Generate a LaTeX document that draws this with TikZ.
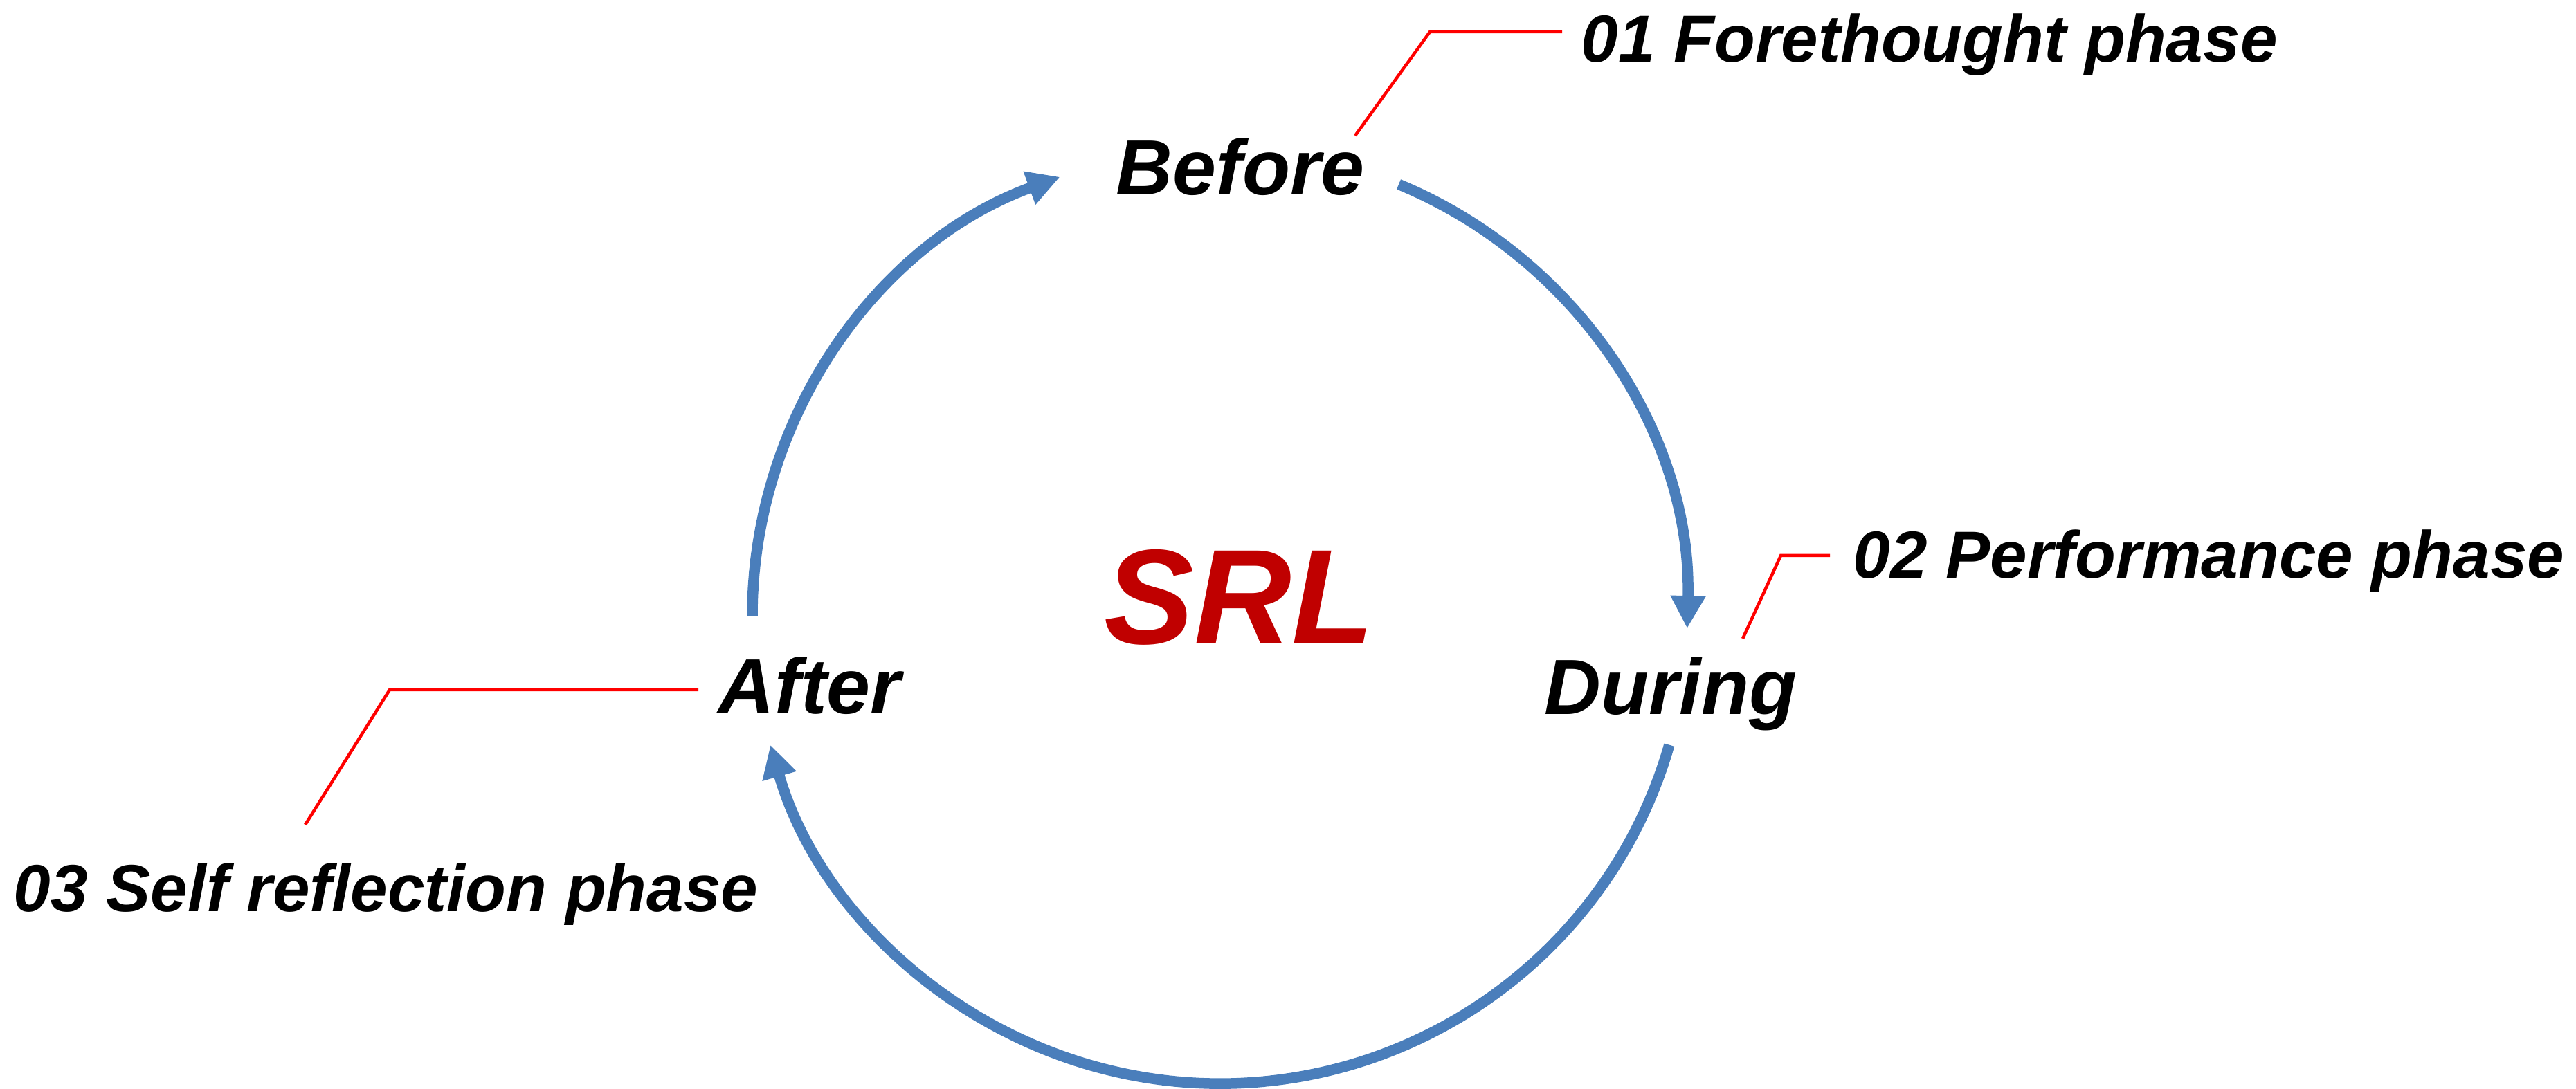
\documentclass[tikz,border=0pt]{standalone}
\usepackage{fontspec}
\setmainfont{Liberation Sans}
\usetikzlibrary{arrows.meta}
\definecolor{cycleblue}{RGB}{74,126,187}
\definecolor{srlred}{RGB}{192,0,0}
\definecolor{leadred}{RGB}{255,0,0}
\newcommand{\Rcyc}{6.755}
\tikzstyle{stage} = [inner sep=0pt, anchor=base west, font=\fontsize{32.2}{38}\selectfont\bfseries\itshape]
\tikzstyle{phaseLab} = [inner sep=0pt, anchor=base west, font=\fontsize{27.4}{32}\selectfont\bfseries\itshape]
\tikzstyle{cycArrow} = [draw=cycleblue, line width=0.155cm, -{Triangle[width=0.48cm,length=0.47cm]}]
\tikzstyle{leader} = [draw=leadred, line width=0.045cm]

\begin{document}
\begin{tikzpicture}
\useasboundingbox (0,0) rectangle (37.22,15.73);
%\draw [help lines] (0,0) grid (37,15);

% Define nodes
\coordinate (c) at (17.625,6.825);
\node[stage]                                            (before) at (16.12,12.91) {Before};
\node[stage]                                            (during) at (22.31,5.40)  {During};
\node[stage]                                            (after)  at (10.37,5.41)  {After};
\node[stage, text=srlred, font=\fontsize{55.5}{60}\selectfont\bfseries\itshape]
                                                        (srl)    at (15.95,6.42)  {SRL};

\node[phaseLab]                                         (p1) at (22.84,14.83) {01 Forethought phase};
\node[phaseLab]                                         (p2) at (26.77,7.37)  {02 Performance phase};
\node[phaseLab]                                         (p3) at (0.19,2.56)   {03 Self reflection phase};

% Arc ends
\coordinate (s1) at ([shift={(180:\Rcyc)}]c);
\coordinate (s2) at ([shift={(67.5:\Rcyc)}]c);
\coordinate (s3) at ([shift={(-16:\Rcyc)}]c);

% Leader ends
\coordinate (k1a) at (19.58,13.77);
\coordinate (k1b) at (20.66,15.27);
\coordinate (k1c) at (22.57,15.27);
\coordinate (k2a) at (25.18,6.50);
\coordinate (k2b) at (25.73,7.70);
\coordinate (k2c) at (26.44,7.70);
\coordinate (k3a) at (4.41,3.81);
\coordinate (k3b) at (5.63,5.76);
\coordinate (k3c) at (10.09,5.76);

% Edges
\draw[cycArrow] (s1) arc[start angle=180,  end angle=110,  radius=\Rcyc];%
\draw[cycArrow] (s2) arc[start angle=67.5, end angle=-1.5, radius=\Rcyc];%
\draw[cycArrow] (s3) arc[start angle=-16,  end angle=-164, radius=\Rcyc];%

\draw[leader] (k1a) -- (k1b) -- (k1c);%
\draw[leader] (k2a) -- (k2b) -- (k2c);%
\draw[leader] (k3a) -- (k3b) -- (k3c);%
\end{tikzpicture}
\end{document}
